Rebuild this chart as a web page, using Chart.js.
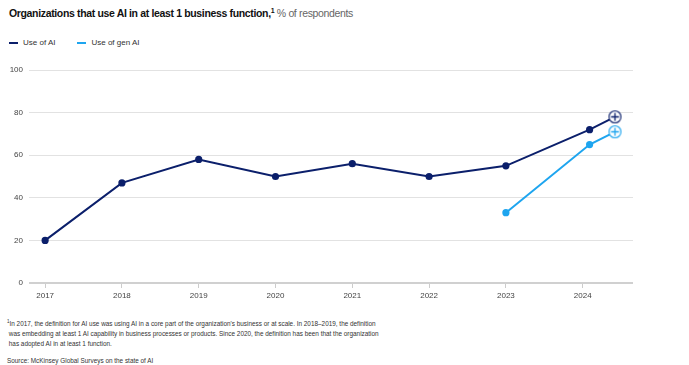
<!DOCTYPE html>
<html>
<head>
<meta charset="utf-8">
<script src="https://cdn.jsdelivr.net/npm/chart.js@4.4.1/dist/chart.umd.min.js"></script>
<style>
  body { margin: 0; width: 689px; height: 365px; background: #fff; font-family: "Liberation Sans", Arial, sans-serif; position: relative; overflow: hidden; }
  #title { position: absolute; left: 9px; top: 6px; font-size: 10.5px; letter-spacing: -0.35px; color: #111; white-space: nowrap; }
  #title b { font-weight: bold; }
  #title sup { font-size: 7px; font-weight: bold; }
  #title span { color: #666; }
  #legend { position: absolute; left: 9px; top: 38px; font-size: 8px; color: #333; white-space: nowrap; }
  #legend i { display: inline-block; width: 9px; height: 2px; vertical-align: middle; margin-right: 5px; }
  #legend em { font-style: normal; margin-right: 22px; }
  #wrap { position: absolute; left: 0; top: 55px; width: 689px; height: 255px; }
  #notes { position: absolute; left: 7px; top: 317px; font-size: 6.4px; line-height: 10px; color: #333; white-space: nowrap; }
  #notes p { margin: 0; }
</style>
</head>
<body>
<div id="title"><b>Organizations that use AI in at least 1 business function,<sup>1</sup></b> <span>% of respondents</span></div>
<div id="legend"><i style="background:#0b1f6b"></i><em>Use of AI</em><i style="background:#1ea5ef"></i><em>Use of gen AI</em></div>
<div id="wrap"><canvas id="chart"></canvas></div>
<div id="notes">
  <p><sup style="font-size:4.5px">1</sup>In 2017, the definition for AI use was using AI in a core part of the organization's business or at scale. In 2018–2019, the definition</p>
  <p>&nbsp;was embedding at least 1 AI capability in business processes or products. Since 2020, the definition has been that the organization</p>
  <p>&nbsp;has adopted AI in at least 1 function.</p>
  <p style="margin-top:7px">Source: McKinsey Global Surveys on the state of AI</p>
</div>
<script>
// survey positions on the year axis (the two latest surveys sit after the 2024 tick)
const surveyYears = [2017, 2018, 2019, 2020, 2021, 2022, 2023, 2024.09, 2024.42];
const tickYears = [2017, 2018, 2019, 2020, 2021, 2022, 2023, 2024];
const useOfAI = [20, 47, 58, 50, 56, 50, 55, 72, 78];
const useOfGenAI = [null, null, null, null, null, null, 33, 65, 71];

const navy = '#0b1f6b';
const sky = '#1ea5ef';

// circle with a plus, used for the latest point
function plusMarker(color) {
  const c = document.createElement('canvas');
  c.width = 15; c.height = 15;
  const g = c.getContext('2d');
  g.beginPath();
  g.arc(7.5, 7.5, 6, 0, Math.PI * 2);
  g.fillStyle = '#fff';
  g.fill();
  g.lineWidth = 1.1;
  g.strokeStyle = color;
  g.stroke();
  g.beginPath();
  g.lineWidth = 1.3;
  g.moveTo(7.5, 3.5); g.lineTo(7.5, 11.5);
  g.moveTo(3.5, 7.5); g.lineTo(11.5, 7.5);
  g.stroke();
  return c;
}

function toPoints(values) {
  return values.map((v, i) => ({ x: surveyYears[i], y: v }));
}

function makeSet(label, values, color) {
  const marker = plusMarker(color);
  const last = values.length - 1;
  return {
    label: label,
    data: toPoints(values),
    borderColor: color,
    backgroundColor: color,
    borderWidth: 2,
    pointRadius: 2.6,
    pointHoverRadius: 2.6,
    pointStyle: ctx => ctx.dataIndex === last ? marker : 'circle',
    spanGaps: false
  };
}

const ctx = document.getElementById('chart').getContext('2d');
new Chart(ctx, {
  type: 'line',
  data: {
    datasets: [
      makeSet('Use of AI', useOfAI, navy),
      makeSet('Use of gen AI', useOfGenAI, sky)
    ]
  },
  options: {
    responsive: true,
    maintainAspectRatio: false,
    animation: false,
    layout: { padding: { top: 15, right: 56, left: 0, bottom: 0 } },
    plugins: { legend: { display: false }, tooltip: { enabled: false } },
    scales: {
      x: {
        type: 'linear',
        min: 2016.79,
        max: 2024.655,
        afterBuildTicks: scale => { scale.ticks = tickYears.map(v => ({ value: v })); },
        afterFit: scale => { scale.height = 27; },
        grid: { drawOnChartArea: false, drawTicks: true, tickLength: 5, color: '#ccc' },
        border: { display: false },
        ticks: {
          color: '#444',
          font: { size: 8, family: '"Liberation Sans", Arial, sans-serif' },
          padding: 3,
          maxRotation: 0,
          callback: v => String(v)
        }
      },
      y: {
        min: 0,
        max: 100,
        afterFit: scale => { scale.width = 29; },
        grid: {
          drawTicks: false,
          color: ctx => ctx.tick.value === 0 ? '#d0d0d0' : '#e2e2e2',
          lineWidth: ctx => ctx.tick.value === 0 ? 2 : 1
        },
        border: { display: false },
        ticks: {
          stepSize: 20,
          color: '#444',
          font: { size: 8, family: '"Liberation Sans", Arial, sans-serif' },
          padding: 6
        }
      }
    }
  }
});
</script>
</body>
</html>
